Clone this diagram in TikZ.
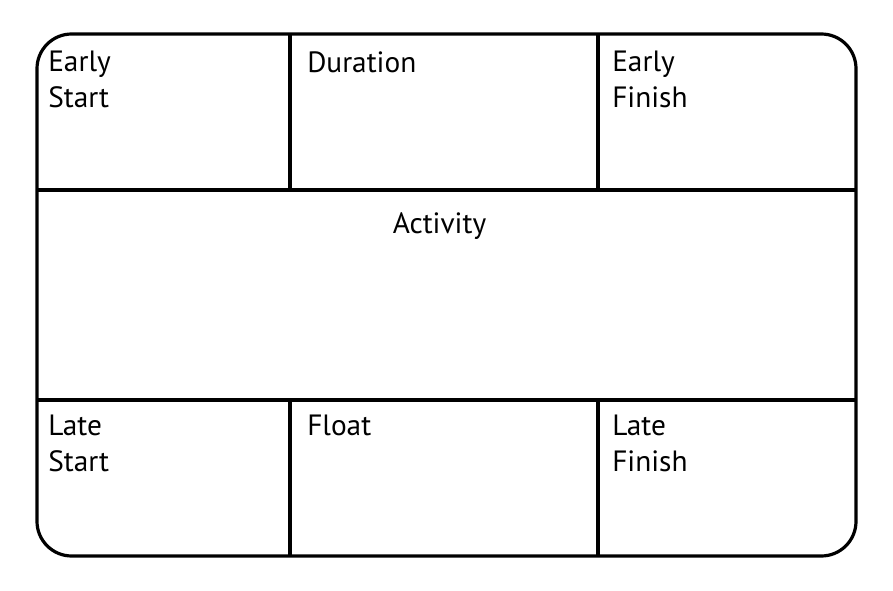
\documentclass[tikz,border=0pt]{standalone}
\usepackage{fontspec}
\setmainfont{PT Sans}
\begin{document}
\begin{tikzpicture}[x=0.75pt, y=-0.75pt,
		frame/.style={line width=2.4pt},
		lbl/.style={anchor=north west, inner sep=0pt, align=left, font=\fontsize{22}{27}\selectfont}]
		\useasboundingbox (0, 0) rectangle (893, 591);
		\draw[frame, rounded corners=26pt] (37, 34) rectangle (856, 556);
		\draw[frame] (37, 190)--(856, 190);
		\draw[frame] (37, 400)--(856, 400);
		\draw[frame] (290, 34)--(290, 190);
		\draw[frame] (598, 34)--(598, 190);
		\draw[frame] (290, 400)--(290, 556);
		\draw[frame] (598, 400)--(598, 556);
		\node[lbl] (es) at (48, 51) {Early\\Start};
		\node[lbl] (dur) at (307, 51) {Duration};
		\node[lbl] (ef) at (612, 51) {Early\\Finish};
		\node[lbl, anchor=north] (act) at (439.5, 212.5) {Activity};
		\node[lbl] (ls) at (48, 415) {Late\\Start};
		\node[lbl] (fl) at (307, 415) {Float};
		\node[lbl] (lf) at (612, 415) {Late\\Finish};
	\end{tikzpicture}
\end{document}
